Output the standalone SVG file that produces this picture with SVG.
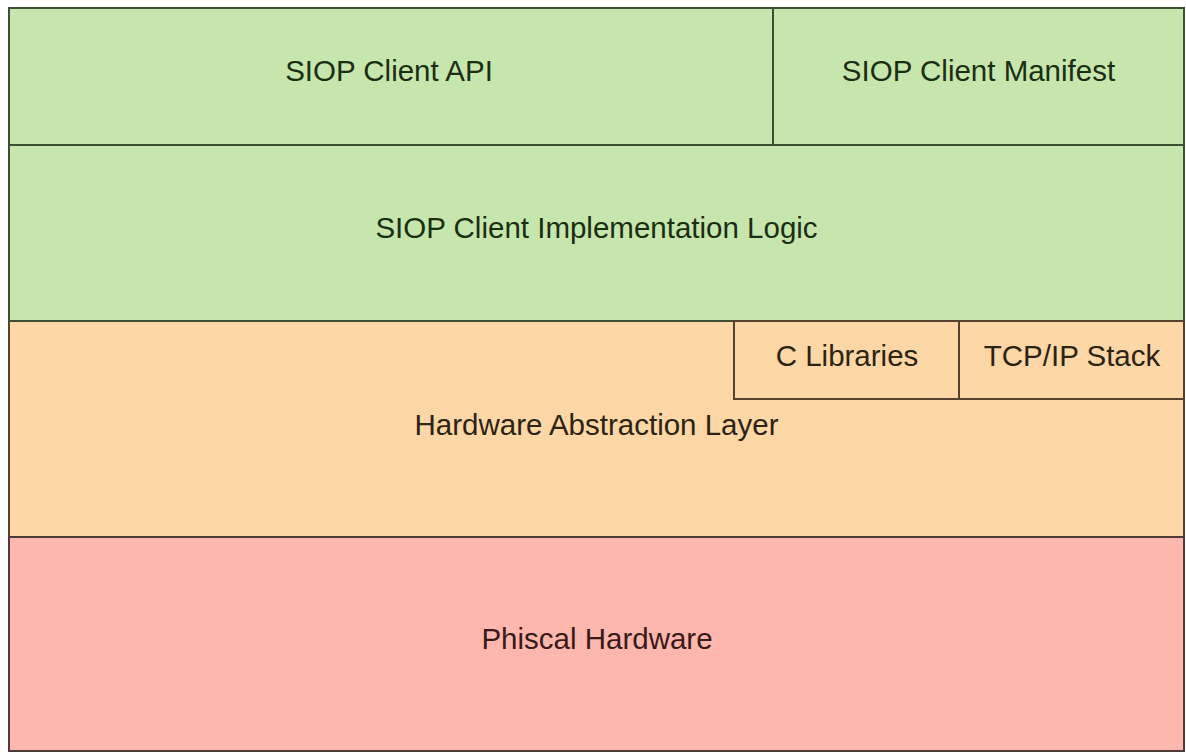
<svg xmlns="http://www.w3.org/2000/svg" width="1186" height="754" viewBox="0 0 1186 754">
<style>
  .t { font-family: "Liberation Sans", Arial, sans-serif; font-size: 29.5px; text-anchor: middle; dominant-baseline: central; }
  .g { fill: #c6e6ae; stroke: #3e4f36; stroke-width: 2; }
  .o { fill: #fdd8a6; stroke: #54422e; stroke-width: 2; }
  .r { fill: #fdb7ad; stroke: #4e3a38; stroke-width: 2; }
  .gt { fill: #1c2e12; }
  .ot { fill: #2e2214; }
  .rt { fill: #3a1a18; }
</style>
<rect width="1186" height="754" fill="#ffffff"/>
<g id="hal">
  <rect class="o" x="9" y="321" width="1175" height="216"/>
  <text class="t ot" x="596.5" y="424">Hardware Abstraction Layer</text>
</g>
<g id="hardware">
  <rect class="r" x="9" y="537" width="1175" height="214"/>
  <text class="t rt" x="597" y="638">Phiscal Hardware</text>
</g>
<g id="impl">
  <rect class="g" x="9" y="145" width="1175" height="176"/>
  <text class="t gt" x="596.5" y="227">SIOP Client Implementation Logic</text>
</g>
<g id="api">
  <rect class="g" x="9" y="8" width="764" height="137"/>
  <text class="t gt" x="389" y="70">SIOP Client API</text>
</g>
<g id="manifest">
  <rect class="g" x="773" y="8" width="411" height="137"/>
  <text class="t gt" x="978.5" y="70">SIOP Client Manifest</text>
</g>
<g id="clib">
  <rect class="o" x="734" y="321" width="225" height="78"/>
  <text class="t ot" x="847" y="355">C Libraries</text>
</g>
<g id="tcpip">
  <rect class="o" x="959" y="321" width="225" height="78"/>
  <text class="t ot" x="1072" y="355">TCP/IP Stack</text>
</g>
<g id="connectors"></g>
</svg>
